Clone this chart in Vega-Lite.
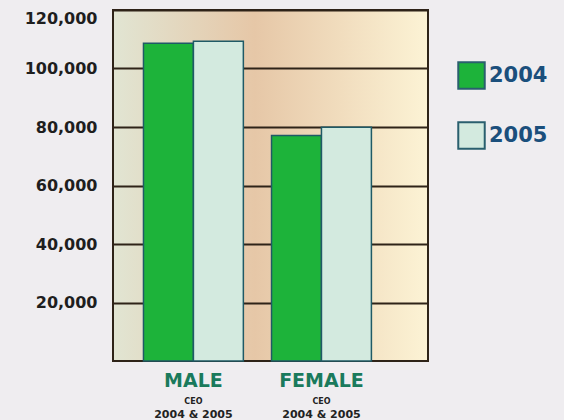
{
  "$schema": "https://vega.github.io/schema/vega-lite/v6.json",
  "width": 315,
  "height": 351,
  "autosize": {"type": "none"},
  "padding": {"left": 113, "top": 10, "right": 136, "bottom": 59},
  "background": "#efedf0",
  "view": {
    "fill": {"expr": "{gradient: 'linear', x1: 0, y1: 0, x2: 1, y2: 0, stops: [{offset: 0, color: '#e1e5d3'}, {offset: 0.45, color: '#e6c7a7'}, {offset: 1, color: '#fcf3d5'}]}"},
    "stroke": "#2e2318",
    "strokeWidth": 2
  },
  "datasets": {
    "bars": [
      {"group": "MALE", "year": "2004", "value": 108600},
      {"group": "MALE", "year": "2005", "value": 109300},
      {"group": "FEMALE", "year": "2004", "value": 77100},
      {"group": "FEMALE", "year": "2005", "value": 79900}
    ],
    "labels": [
      {"group": "MALE", "line1": "CEO", "line2": "2004 & 2005"},
      {"group": "FEMALE", "line1": "CEO", "line2": "2004 & 2005"}
    ]
  },
  "encoding": {
    "x": {
      "field": "group",
      "type": "nominal",
      "sort": ["MALE", "FEMALE"],
      "scale": {"paddingInner": 0.22, "paddingOuter": 0.34, "align": 0.35},
      "axis": {
        "title": null,
        "ticks": false,
        "domain": false,
        "labelAngle": 0,
        "labelFont": "DejaVu Sans",
        "labelFontWeight": "bold",
        "labelFontSize": 19,
        "labelColor": "#1a7a5c",
        "labelPadding": 10,
        "labelBaseline": "top"
      }
    }
  },
  "layer": [
    {
      "data": {"name": "bars"},
      "mark": {"type": "bar", "stroke": "#1f5a66", "strokeWidth": 1.5},
      "encoding": {
        "xOffset": {"field": "year", "type": "nominal", "scale": {"paddingInner": 0, "paddingOuter": 0}},
        "y": {
          "field": "value",
          "type": "quantitative",
          "scale": {"domain": [0, 120000], "nice": false},
          "axis": {
            "title": null,
            "values": [20000, 40000, 60000, 80000, 100000, 120000],
            "format": ",d",
            "ticks": false,
            "domain": false,
            "grid": true,
            "gridColor": "#2e2318",
            "gridWidth": 2,
            "gridOpacity": 1,
            "labelFont": "DejaVu Sans",
            "labelFontWeight": "bold",
            "labelFontSize": 16,
            "labelColor": "#1e1e1e",
            "labelPadding": 16,
            "labelBaseline": {"condition": {"test": "datum.value == 120000", "value": "top"}, "value": "middle"}
          }
        },
        "color": {
          "field": "year",
          "type": "nominal",
          "scale": {"domain": ["2004", "2005"], "range": ["#1db33a", "#d3eadf"]},
          "legend": {
            "title": null,
            "orient": "none",
            "legendX": 344,
            "legendY": 51,
            "symbolType": "square",
            "symbolSize": 700,
            "symbolStrokeColor": "#2a5f6e",
            "symbolStrokeWidth": 2,
            "symbolOpacity": 1,
            "labelFont": "DejaVu Sans",
            "labelFontWeight": "bold",
            "labelFontSize": 21,
            "labelColor": "#1b4f7c",
            "labelOffset": 3,
            "rowPadding": 25
          }
        }
      }
    },
    {
      "data": {"name": "labels"},
      "mark": {"type": "text", "font": "DejaVu Sans", "fontWeight": "bold", "fontSize": 8, "color": "#222222", "baseline": "middle"},
      "encoding": {
        "y": {"datum": -13900},
        "text": {"field": "line1"}
      }
    },
    {
      "data": {"name": "labels"},
      "mark": {"type": "text", "font": "DejaVu Sans", "fontWeight": "bold", "fontSize": 11, "color": "#222222", "baseline": "middle"},
      "encoding": {
        "y": {"datum": -18500},
        "text": {"field": "line2"}
      }
    }
  ]
}
